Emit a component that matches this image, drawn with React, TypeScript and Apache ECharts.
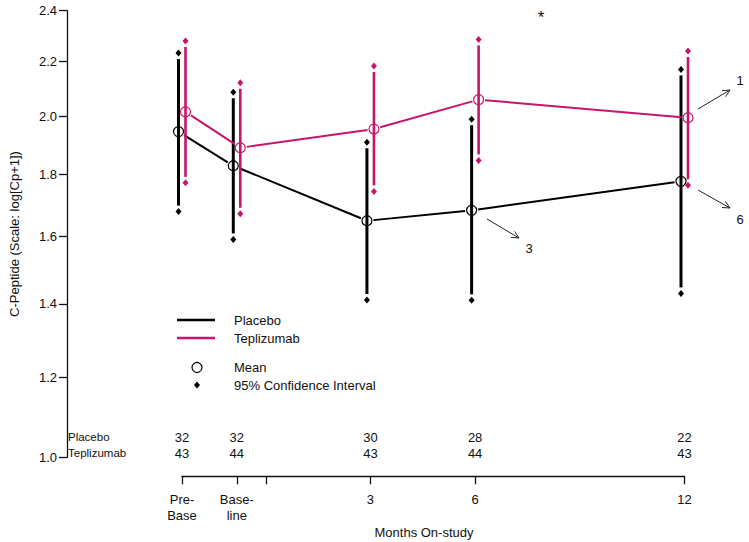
import React, { useEffect, useRef } from "react";
import * as echarts from "echarts";

// ---- data ----
const timepoints = [-2.4, -0.83, 3, 6, 12]; // months on-study (pre-base / baseline placed left of 0)
const timeLabels = ["Pre-\nBase", "Base-\nline", "3", "6", "12"];
const axisBreakTick = 0;
const yTicks = [1.0, 1.2, 1.4, 1.6, 1.8, 2.0, 2.2, 2.4];

const placeboMean = [1.945, 1.828, 1.649, 1.682, 1.776];
const placeboLower = [1.678, 1.591, 1.411, 1.41, 1.43];
const placeboUpper = [2.233, 2.086, 1.908, 1.989, 2.171];
const teplMean = [2.015, 1.889, 1.954, 2.059, 1.994];
const teplLower = [1.771, 1.671, 1.743, 1.846, 1.763];
const teplUpper = [2.28, 2.121, 2.184, 2.286, 2.241];
const placeboN = [32, 32, 30, 28, 22];
const teplN = [43, 44, 43, 44, 43];

const BLACK = "#000000";
const MAGENTA = "#c8146a";
const FONT = "'Liberation Sans', Arial, sans-serif";

const tf = (v: number) => Math.log(v + 1);

function diamond(cx: number, cy: number, color: string) {
  return {
    type: "polygon",
    shape: { points: [[cx, cy - 3.5], [cx + 3, cy], [cx, cy + 3.5], [cx - 3, cy]] },
    style: { fill: color, stroke: null },
  };
}

function errSeries(name: string, mean: number[], lo: number[], hi: number[], color: string, dx: number, width: number) {
  return {
    type: "custom",
    name,
    z: dx < 0 ? 3 : 5,
    data: timepoints.map((t, i) => [t, tf(lo[i]), tf(hi[i]), tf(mean[i])]),
    renderItem: (params: any, api: any) => {
      const x = api.value(0);
      const top = api.coord([x, api.value(2)]);
      const bot = api.coord([x, api.value(1)]);
      const mid = api.coord([x, api.value(3)]);
      const px = top[0] + dx;
      return {
        type: "group",
        children: [
          {
            type: "line",
            shape: { x1: px, y1: top[1] + 6, x2: px, y2: bot[1] - 6 },
            style: { stroke: color, lineWidth: width },
          },
          diamond(px, top[1], color),
          diamond(px, bot[1], color),
          {
            type: "circle",
            shape: { cx: px, cy: mid[1], r: 5 },
            style: { fill: "none", stroke: color, lineWidth: 1.2 },
          },
        ],
      };
    },
  };
}

function lineSeries(name: string, mean: number[], color: string, dx: number) {
  const segs = [] as number[][];
  for (let i = 0; i < timepoints.length - 1; i++) {
    segs.push([timepoints[i], tf(mean[i]), timepoints[i + 1], tf(mean[i + 1])]);
  }
  return {
    type: "custom",
    name: name + " mean line",
    z: dx < 0 ? 2 : 4,
    data: segs,
    renderItem: (params: any, api: any) => {
      const a = api.coord([api.value(0), api.value(1)]);
      const b = api.coord([api.value(2), api.value(3)]);
      const ax = a[0] + dx, ay = a[1], bx = b[0] + dx, by = b[1];
      const len = Math.hypot(bx - ax, by - ay);
      const ux = (bx - ax) / len, uy = (by - ay) / len;
      const r = 6.5;
      return {
        type: "line",
        shape: { x1: ax + ux * r, y1: ay + uy * r, x2: bx - ux * r, y2: by - uy * r },
        style: { stroke: color, lineWidth: 2 },
      };
    },
  };
}

function countSeries(counts: number[], yPx: number) {
  return {
    type: "custom",
    data: timepoints.map((t, i) => [t, counts[i]]),
    renderItem: (params: any, api: any) => {
      const p = api.coord([api.value(0), Math.log(2)]);
      return {
        type: "text",
        style: {
          x: p[0],
          y: yPx,
          text: String(api.value(1)),
          fill: "#111",
          font: `13px ${FONT}`,
          align: "center",
          verticalAlign: "middle",
        },
      };
    },
  };
}

function arrow(x1: number, y1: number, x2: number, y2: number) {
  const ang = Math.atan2(y2 - y1, x2 - x1);
  const h = 8, spread = 0.45;
  const p1 = [x2 - h * Math.cos(ang - spread), y2 - h * Math.sin(ang - spread)];
  const p2 = [x2 - h * Math.cos(ang + spread), y2 - h * Math.sin(ang + spread)];
  return [
    { type: "line", shape: { x1, y1, x2, y2 }, style: { stroke: "#222", lineWidth: 1 } },
    { type: "polyline", shape: { points: [p1, [x2, y2], p2] }, style: { stroke: "#222", lineWidth: 1, fill: null } },
  ];
}

function txt(x: number, y: number, text: string, size = 13, align = "left") {
  return {
    type: "text",
    x,
    y,
    style: { text, fill: "#111", font: `${size}px ${FONT}`, align, verticalAlign: "middle" },
  };
}

export default function App() {
  const ref = useRef<HTMLDivElement>(null);
  useEffect(() => {
    if (!ref.current) return;
    const chart = echarts.init(ref.current, null, { renderer: "svg" });
    const xTickVals = [...timepoints.slice(0, 2), axisBreakTick, ...timepoints.slice(2)];
    const option: any = {
      animation: false,
      backgroundColor: "#ffffff",
      textStyle: { fontFamily: FONT },
      grid: { left: 180, right: 64.5, top: 10.7, bottom: 84.7, containLabel: false },
      xAxis: {
        type: "value",
        min: -2.4,
        max: 12,
        offset: 19,
        splitLine: { show: false },
        axisLine: { show: true, onZero: false, lineStyle: { color: "#111", width: 1.3 } },
        axisTick: { show: true, customValues: xTickVals, length: 8, lineStyle: { color: "#111", width: 1.3 } },
        axisLabel: {
          customValues: timepoints,
          margin: 15,
          color: "#111",
          fontSize: 13,
          lineHeight: 16,
          fontFamily: FONT,
          formatter: (v: number) => {
            let best = 0;
            timepoints.forEach((t, i) => {
              if (Math.abs(t - v) < Math.abs(timepoints[best] - v)) best = i;
            });
            return timeLabels[best];
          },
        },
      },
      yAxis: {
        type: "value",
        min: Math.log(2),
        max: Math.log(3.4),
        offset: 115,
        name: "C-Peptide (Scale: log[Cp+1])",
        nameLocation: "middle",
        nameGap: 46,
        nameTextStyle: { color: "#111", fontSize: 13, fontFamily: FONT },
        splitLine: { show: false },
        axisLine: { show: true, onZero: false, lineStyle: { color: "#111", width: 1.3 } },
        axisTick: { show: true, customValues: yTicks.map(tf), length: 8, lineStyle: { color: "#111", width: 1.3 } },
        axisLabel: {
          customValues: yTicks.map(tf),
          margin: 10,
          color: "#111",
          fontSize: 13,
          fontFamily: FONT,
          formatter: (v: number) => (Math.exp(v) - 1).toFixed(1),
        },
      },
      series: [
        lineSeries("Placebo", placeboMean, BLACK, -3.5),
        errSeries("Placebo", placeboMean, placeboLower, placeboUpper, BLACK, -3.5, 3),
        lineSeries("Teplizumab", teplMean, MAGENTA, 3.5),
        errSeries("Teplizumab", teplMean, teplLower, teplUpper, MAGENTA, 3.5, 2.6),
        countSeries(placeboN, 437.3),
        countSeries(teplN, 453),
      ],
      graphic: [
        // legend
        { type: "line", shape: { x1: 177, y1: 320, x2: 215, y2: 320 }, style: { stroke: BLACK, lineWidth: 2.5 } },
        { type: "line", shape: { x1: 177, y1: 338, x2: 215, y2: 338 }, style: { stroke: MAGENTA, lineWidth: 2.5 } },
        { type: "circle", shape: { cx: 197, cy: 367.5, r: 5 }, style: { fill: "none", stroke: BLACK, lineWidth: 1.2 } },
        diamond(197, 385, BLACK),
        txt(234, 320, "Placebo"),
        txt(234, 338, "Teplizumab"),
        txt(234, 367.5, "Mean"),
        txt(234, 385, "95% Confidence Interval"),
        // count table row labels
        txt(68, 437.3, "Placebo", 11.5),
        txt(68, 452.5, "Teplizumab", 11.5),
        // x axis title
        txt(424, 532, "Months On-study", 13, "center"),
        // annotations
        ...arrow(487, 219, 519, 238),
        txt(529, 248, "3", 13, "center"),
        ...arrow(698, 109, 730, 90),
        txt(740, 80, "1", 13, "center"),
        ...arrow(698, 190, 730, 208),
        txt(740, 219, "6", 13, "center"),
        txt(541, 17, "*", 17, "center"),
      ],
    };
    chart.setOption(option);
    return () => chart.dispose();
  }, []);
  return (
    <div
      ref={ref}
      style={{ position: "fixed", left: 0, top: 0, width: 749, height: 542, background: "#fff" }}
    />
  );
}
